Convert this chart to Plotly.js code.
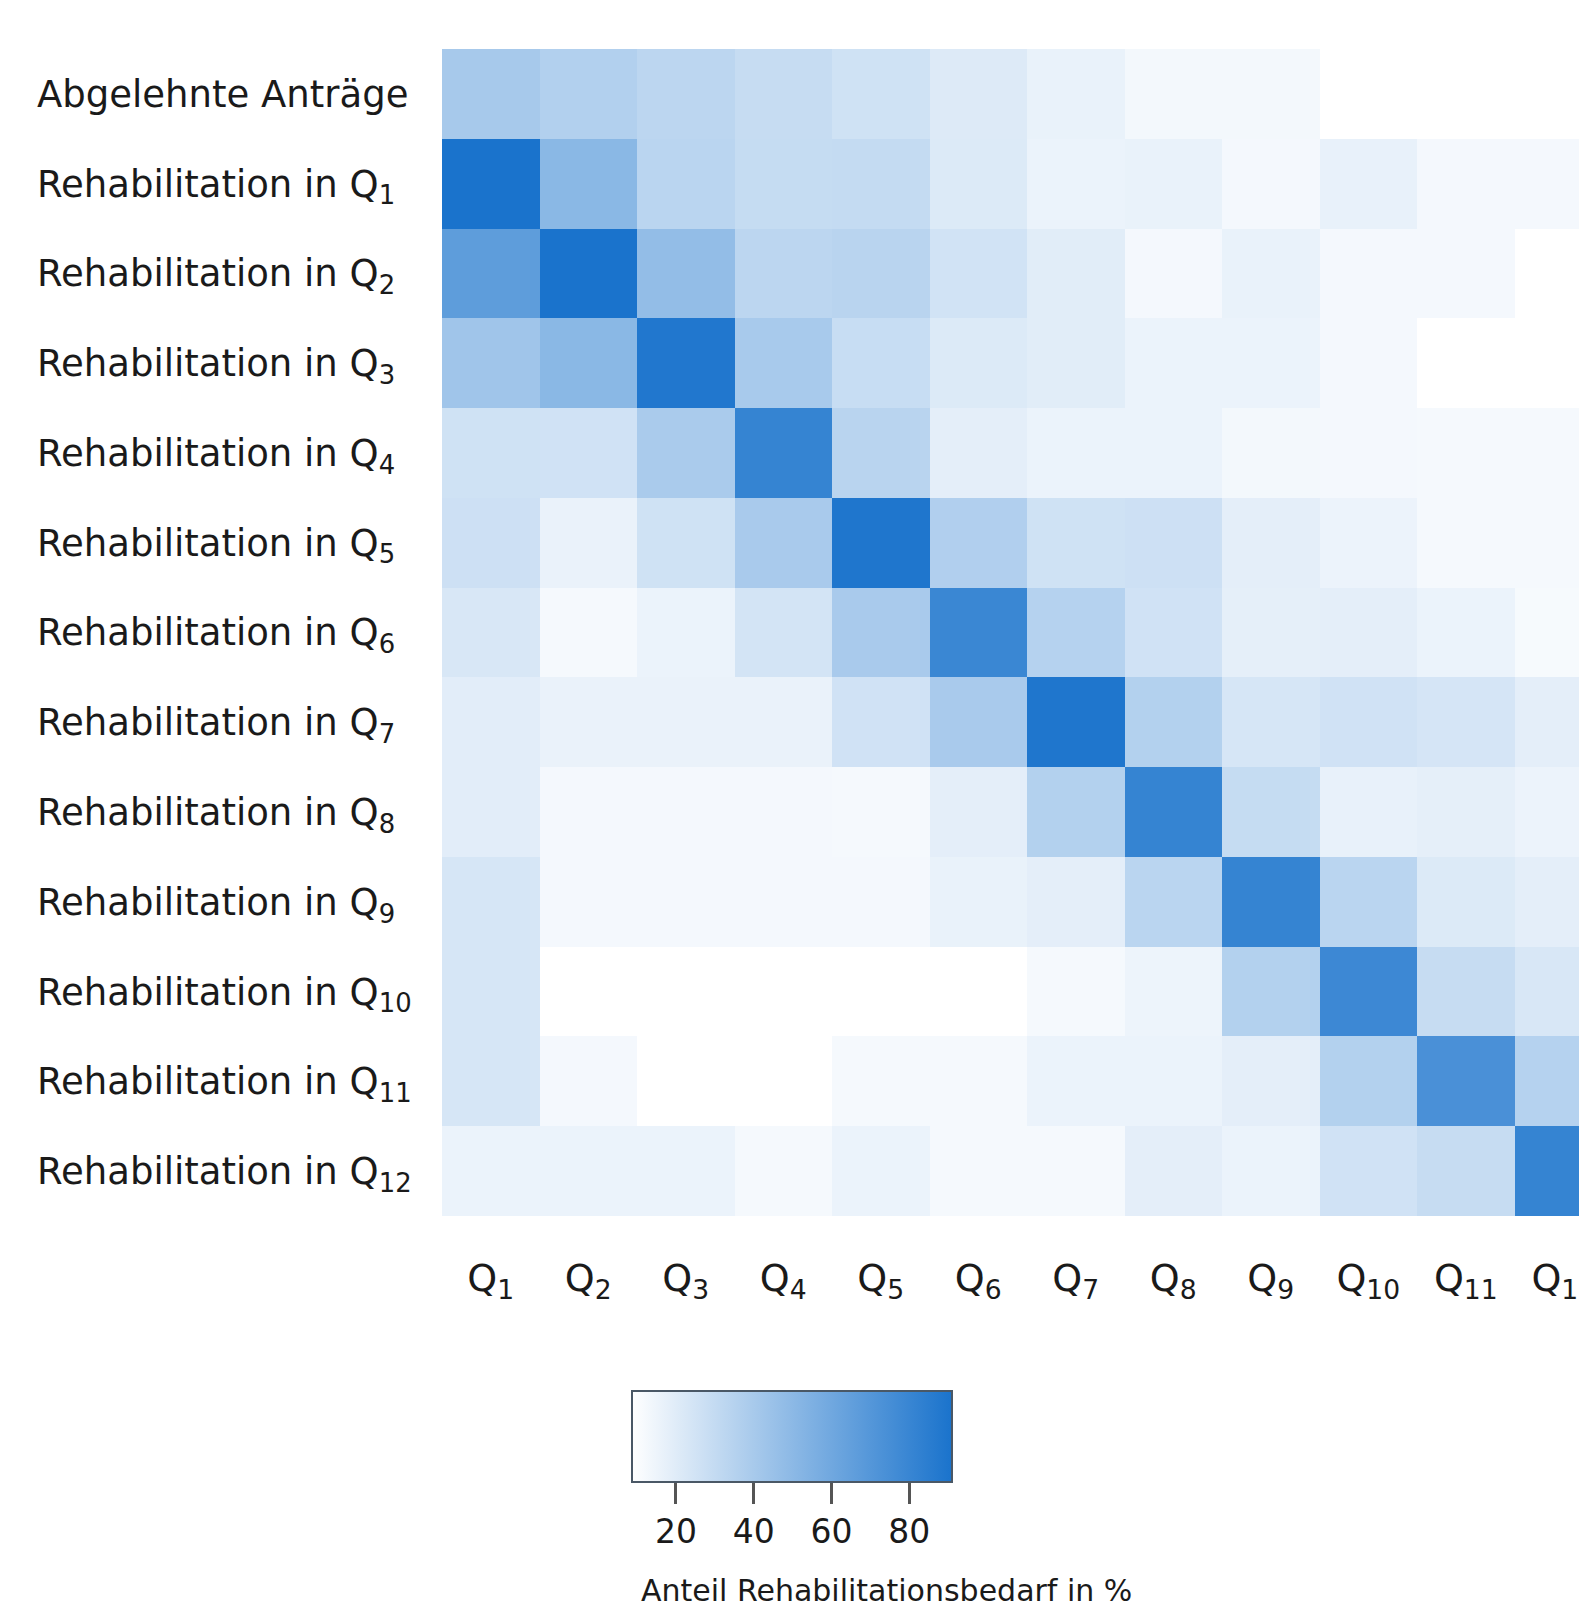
<!DOCTYPE html>
<html>
<head>
<meta charset="utf-8">
<script src="https://cdn.plot.ly/plotly-3.0.1.min.js"></script>
<style>
html,body{margin:0;padding:0;overflow:hidden;background:#ffffff;}
#chart{width:1612px;height:1604px;}
</style>
</head>
<body>
<div id="chart"></div>
<script>
// Columns: quarter of rehabilitation need
const columns = ['Q<sub>1</sub>','Q<sub>2</sub>','Q<sub>3</sub>','Q<sub>4</sub>','Q<sub>5</sub>','Q<sub>6</sub>',
                 'Q<sub>7</sub>','Q<sub>8</sub>','Q<sub>9</sub>','Q<sub>10</sub>','Q<sub>11</sub>','Q<sub>12</sub>'];
// Rows
const rows = ['Abgelehnte Anträge',
  'Rehabilitation in Q<sub>1</sub>','Rehabilitation in Q<sub>2</sub>','Rehabilitation in Q<sub>3</sub>',
  'Rehabilitation in Q<sub>4</sub>','Rehabilitation in Q<sub>5</sub>','Rehabilitation in Q<sub>6</sub>',
  'Rehabilitation in Q<sub>7</sub>','Rehabilitation in Q<sub>8</sub>','Rehabilitation in Q<sub>9</sub>',
  'Rehabilitation in Q<sub>10</sub>','Rehabilitation in Q<sub>11</sub>','Rehabilitation in Q<sub>12</sub>'];

// Share of rehabilitation need in %, one array per row
const abgelehnt = [40.3, 36.4, 32.8, 29.2, 26.0, 20.9, 16.6, 13.0, 13.0, null, null, null];
const rehaQ1  = [91.0, 50.7, 33.5, 29.5, 29.9, 21.3, 15.9, 16.6, 12.7, 17.0, 12.7, 12.7];
const rehaQ2  = [66.6, 91.0, 47.5, 32.8, 33.9, 25.2, 19.5, 12.7, 16.6, 12.7, 12.7, null];
const rehaQ3  = [42.8, 50.7, 88.5, 40.0, 28.8, 21.3, 19.5, 15.9, 15.9, 12.7, null, null];
const rehaQ4  = [26.0, 25.6, 39.2, 81.3, 33.9, 18.4, 15.9, 15.9, 13.0, 12.7, 12.3, 12.3];
const rehaQ5  = [26.7, 16.2, 26.0, 39.6, 89.2, 36.7, 26.0, 26.7, 18.4, 15.5, 12.3, 12.3];
const rehaQ6  = [22.7, 12.3, 15.9, 24.5, 39.6, 79.5, 35.3, 25.6, 18.0, 18.4, 15.9, 11.9];
const rehaQ7  = [19.1, 16.2, 16.2, 16.2, 25.6, 39.6, 89.2, 36.0, 23.4, 25.6, 23.8, 18.4];
const rehaQ8  = [19.1, 12.7, 12.7, 12.7, 12.3, 18.4, 36.0, 81.3, 29.5, 17.0, 18.0, 15.5];
const rehaQ9  = [23.4, 12.7, 12.7, 12.7, 12.7, 16.6, 18.4, 33.5, 81.3, 33.5, 21.3, 18.4];
const rehaQ10 = [23.4, null, null, null, null, null, 12.3, 15.2, 36.0, 78.4, 29.2, 22.7];
const rehaQ11 = [23.4, 12.7, null, null, 12.3, 12.3, 15.9, 15.9, 18.4, 36.0, 73.7, 35.3];
const rehaQ12 = [15.9, 15.9, 15.9, 12.3, 15.9, 12.3, 12.3, 18.4, 15.9, 25.6, 29.2, 81.3];

const colorbarTicks = [20, 40, 60, 80];
const colorbarTitle = 'Anteil Rehabilitationsbedarf in %';

const z = [abgelehnt, rehaQ1, rehaQ2, rehaQ3, rehaQ4, rehaQ5, rehaQ6,
           rehaQ7, rehaQ8, rehaQ9, rehaQ10, rehaQ11, rehaQ12];

const W = 1612, H = 1604;
const FONT = 'DejaVu Sans';
const plotTop = 49, plotBottom = 1216;
const plotH = plotBottom - plotTop;

const trace = {
  type: 'heatmap',
  x: columns,
  y: rows,
  z: z,
  zmin: 8.7,
  zmax: 91,
  colorscale: [[0, '#ffffff'], [1, '#1a73cc']],
  hoverongaps: false,
  colorbar: {
    orientation: 'h',
    x: 792 / W,
    xanchor: 'center',
    len: 320,
    lenmode: 'pixels',
    thickness: 91,
    thicknessmode: 'pixels',
    y: -(1391 - plotBottom) / plotH,
    yanchor: 'top',
    ypad: 0,
    xpad: 0,
    outlinewidth: 2,
    outlinecolor: '#4a5866',
    ticks: 'outside',
    ticklen: 21,
    tickwidth: 3,
    tickcolor: '#555555',
    tickvals: colorbarTicks,
    tickfont: {family: FONT, size: 33, color: '#1a1a1a'}
  }
};

const layout = {
  width: W,
  height: H,
  margin: {l: 0, r: 0, t: plotTop, b: H - plotBottom, pad: 0},
  paper_bgcolor: '#ffffff',
  plot_bgcolor: '#ffffff',
  font: {family: FONT, color: '#1a1a1a'},
  xaxis: {
    type: 'category',
    domain: [442 / W, 1],
    range: [-0.5, 11.5],
    showgrid: false,
    zeroline: false,
    showline: false,
    ticks: 'outside',
    ticklen: 28,
    tickcolor: 'rgba(0,0,0,0)',
    tickfont: {family: FONT, size: 38, color: '#1a1a1a'},
    fixedrange: true
  },
  yaxis: {
    type: 'category',
    autorange: false,
    range: [12.5, -0.5],
    anchor: 'free',
    position: 33 / W,
    ticklabelposition: 'inside',
    ticks: '',
    showgrid: false,
    zeroline: false,
    showline: false,
    tickfont: {family: FONT, size: 37, color: '#1a1a1a'},
    fixedrange: true
  },
  annotations: [{
    text: colorbarTitle,
    xref: 'paper', yref: 'paper',
    x: 639 / W, xanchor: 'left',
    y: -(1590 - plotBottom) / plotH, yanchor: 'middle',
    showarrow: false,
    font: {family: FONT, size: 30, color: '#1a1a1a'}
  }]
};

Plotly.newPlot('chart', [trace], layout, {displayModeBar: false, staticPlot: true});
</script>
</body>
</html>
